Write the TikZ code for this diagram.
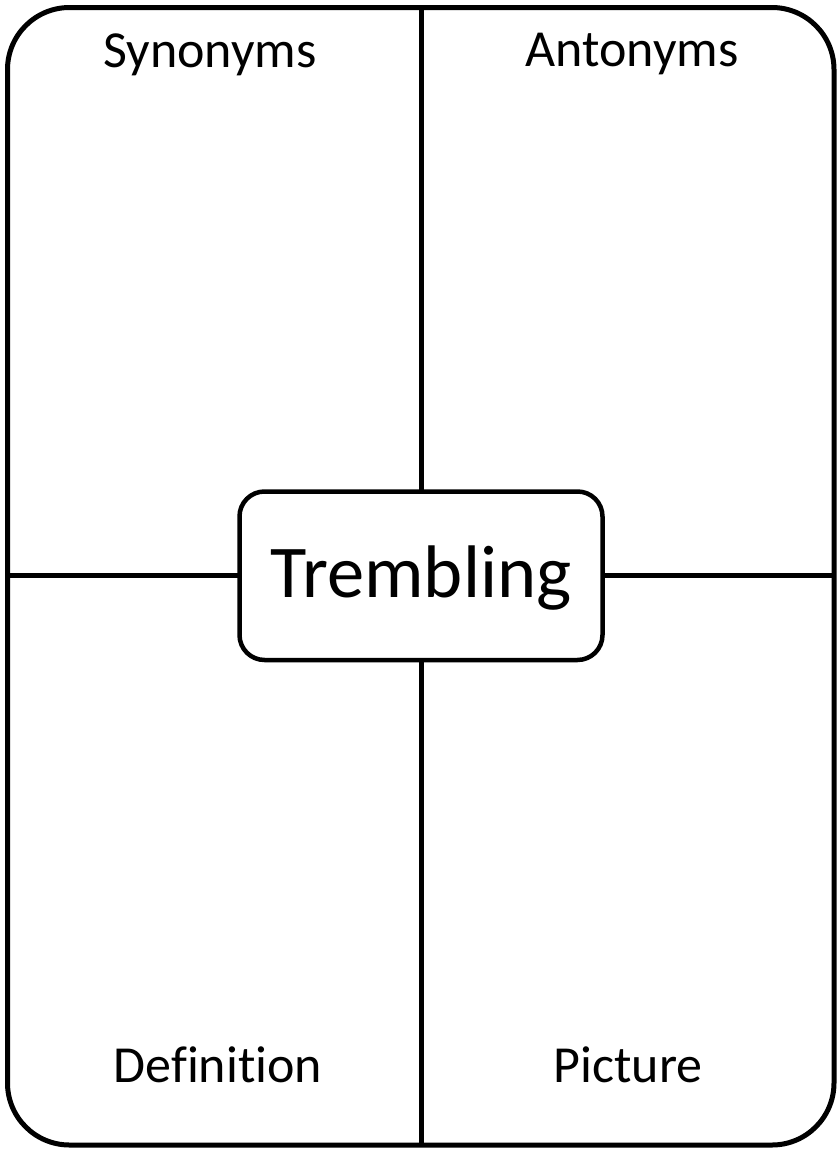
\documentclass[tikz,border=0pt]{standalone}
\usepackage{fontspec}
\setmainfont[Ligatures=CommonOff]{Carlito}
\begin{document}
\begin{tikzpicture}[x=1pt,y=-1pt,
  frame/.style={draw=black,line width=5pt,rounded corners=62pt,outer sep=0pt,inner sep=0pt,
    minimum width=826.5pt,minimum height=1137.5pt},
  wordbox/.style={draw=black,line width=4.5pt,rounded corners=25pt,outer sep=0pt,inner sep=0pt,
    minimum width=363pt,minimum height=168.5pt,text height=50pt,text depth=7.5pt,
    font=\fontsize{74.5}{82}\selectfont},
  divider/.style={draw=black,line width=5pt},
  label/.style={anchor=base,inner sep=0pt,font=\fontsize{52}{60}\selectfont}]
\useasboundingbox (0,0) rectangle (840,1149);
\node[frame] (F) at (420.75,576.25) {};
\node[wordbox] (W) at (421,575.75) {Trembling};
\draw[divider] (W.north) -- (W.north |- F.north);
\draw[divider] (W.south) -- (W.south |- F.south);
\draw[divider] (W.west) -- (W.west -| F.west);
\draw[divider] (W.east) -- (W.east -| F.east);
\node[label] (syn) at (210,67) {Synonyms};
\node[label] (ant) at (632,66) {Antonyms};
\node[label] (def) at (218,1082) {Definition};
\node[label] (pic) at (628,1082) {Picture};
\end{tikzpicture}
\end{document}
